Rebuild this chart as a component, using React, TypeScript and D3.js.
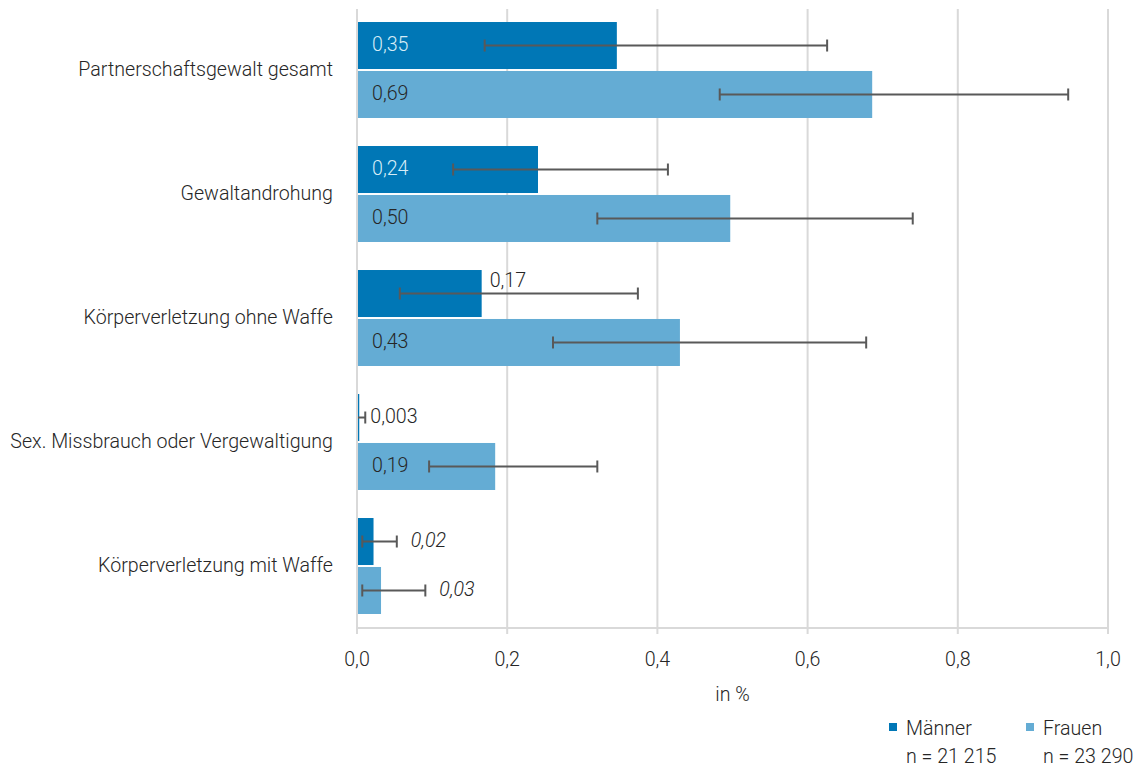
import React from "react";
import * as d3 from "d3";

const categories = [
  "Partnerschaftsgewalt gesamt",
  "Gewaltandrohung",
  "Körperverletzung ohne Waffe",
  "Sex. Missbrauch oder Vergewaltigung",
  "Körperverletzung mit Waffe",
];
const maennerValues = [0.346, 0.241, 0.166, 0.003, 0.022];
const maennerLow = [0.17, 0.128, 0.057, 0.0, 0.007];
const maennerHigh = [0.626, 0.414, 0.374, 0.011, 0.053];
const maennerLabels = ["0,35", "0,24", "0,17", "0,003", "0,02"];
const maennerPlacement = ["inside", "inside", "above", "after", "afterItalic"];

const frauenValues = [0.686, 0.497, 0.43, 0.184, 0.032];
const frauenLow = [0.483, 0.32, 0.261, 0.096, 0.007];
const frauenHigh = [0.947, 0.74, 0.678, 0.32, 0.091];
const frauenLabels = ["0,69", "0,50", "0,43", "0,19", "0,03"];
const frauenPlacement = ["inside", "inside", "inside", "inside", "afterItalic"];

const xTicks = [0, 0.2, 0.4, 0.6, 0.8, 1.0];
const seriesNames = ["Männer", "Frauen"];
const seriesN = ["n = 21 215", "n = 23 290"];
const axisTitle = "in %";

const W = 1136;
const H = 767;
const FONT = "Roboto, 'Noto Sans', sans-serif";
const C_M = "#0077b6";
const C_F = "#64acd4";
const GRID = "#d9d9d9";
const ERR = "#595959";
const TXT = "#262626";
const FS = 21;
const SX = 0.935;

function T(props: {
  x: number;
  y: number;
  anchor?: "start" | "middle" | "end";
  fill?: string;
  italic?: boolean;
  baseline?: string;
  children: React.ReactNode;
}) {
  return (
    <text
      transform={`translate(${props.x},${props.y}) scale(${SX},1)`}
      textAnchor={props.anchor || "start"}
      dominantBaseline={props.baseline || "middle"}
      fontSize={FS}
      fontWeight={300}
      fontStyle={props.italic ? "italic" : "normal"}
      fill={props.fill || TXT}
    >
      {props.children}
    </text>
  );
}

export default function App() {
  const left = 357;
  const right = 1108;
  const top = 8;
  const bottom = 628;
  const x = d3.scaleLinear().domain([0, 1]).range([left, right]);
  const y = d3
    .scaleBand<string>()
    .domain(categories)
    .range([top, bottom])
    .paddingInner(0.226)
    .paddingOuter(0.113);
  const sub = d3.scaleBand<string>().domain(seriesNames).range([0, y.bandwidth()]).paddingInner(0.04);

  const series = [
    { name: seriesNames[0], color: C_M, v: maennerValues, lo: maennerLow, hi: maennerHigh, lab: maennerLabels, pl: maennerPlacement, inColor: "#d6ecf7" },
    { name: seriesNames[1], color: C_F, v: frauenValues, lo: frauenLow, hi: frauenHigh, lab: frauenLabels, pl: frauenPlacement, inColor: TXT },
  ];
  const fmt = (t: number) => d3.format(".1f")(t).replace(".", ",");

  return (
    <svg width={W} height={H} style={{ position: "absolute", left: 0, top: 0, background: "#fff" }} fontFamily={FONT}>
      {xTicks.map((t) => (
        <g key={t}>
          <line x1={x(t)} x2={x(t)} y1={top + 1} y2={bottom + 6} stroke={GRID} strokeWidth={2} />
          <T x={x(t)} y={660} anchor="middle">
            {fmt(t)}
          </T>
        </g>
      ))}
      <line x1={left} x2={right} y1={bottom} y2={bottom} stroke={GRID} strokeWidth={2} />
      <T x={(left + right) / 2} y={695} anchor="middle">
        {axisTitle}
      </T>
      {categories.map((c) => (
        <T key={c} x={333} y={(y(c) as number) + y.bandwidth() / 2} anchor="end">
          {c}
        </T>
      ))}
      {series.map((s) =>
        categories.map((c, i) => {
          const y0 = (y(c) as number) + (sub(s.name) as number);
          const h = sub.bandwidth();
          const cy = y0 + h / 2;
          const pl = s.pl[i];
          let lx = x(0) + 15;
          let ly = cy;
          let fill = s.inColor;
          let italic = false;
          if (pl === "above") {
            lx = x(s.v[i]) + 8;
            ly = cy - 12;
            fill = TXT;
          } else if (pl === "after") {
            lx = x(s.hi[i]) + 5;
            fill = TXT;
          } else if (pl === "afterItalic") {
            lx = x(s.hi[i]) + 14;
            fill = TXT;
            italic = true;
          }
          return (
            <g key={s.name + c}>
              <rect x={x(0)} y={y0} width={x(s.v[i]) - x(0)} height={h} fill={s.color} />
              <line x1={x(s.lo[i])} x2={x(s.hi[i])} y1={cy} y2={cy} stroke={ERR} strokeWidth={2} />
              <line x1={x(s.lo[i])} x2={x(s.lo[i])} y1={cy - 6} y2={cy + 6} stroke={ERR} strokeWidth={2} />
              <line x1={x(s.hi[i])} x2={x(s.hi[i])} y1={cy - 6} y2={cy + 6} stroke={ERR} strokeWidth={2} />
              <T x={lx} y={ly} fill={fill} italic={italic}>
                {s.lab[i]}
              </T>
            </g>
          );
        })
      )}
      <line x1={left} x2={left} y1={top + 1} y2={bottom} stroke={GRID} strokeWidth={2} />
      {series.map((s, i) => {
        const lx = i === 0 ? 889 : 1026;
        return (
          <g key={s.name}>
            <rect x={lx} y={723} width={8} height={8} fill={s.color} />
            <T x={lx + 17} y={735} baseline="auto">
              {s.name}
            </T>
            <T x={lx + 17} y={763} baseline="auto">
              {seriesN[i]}
            </T>
          </g>
        );
      })}
    </svg>
  );
}
